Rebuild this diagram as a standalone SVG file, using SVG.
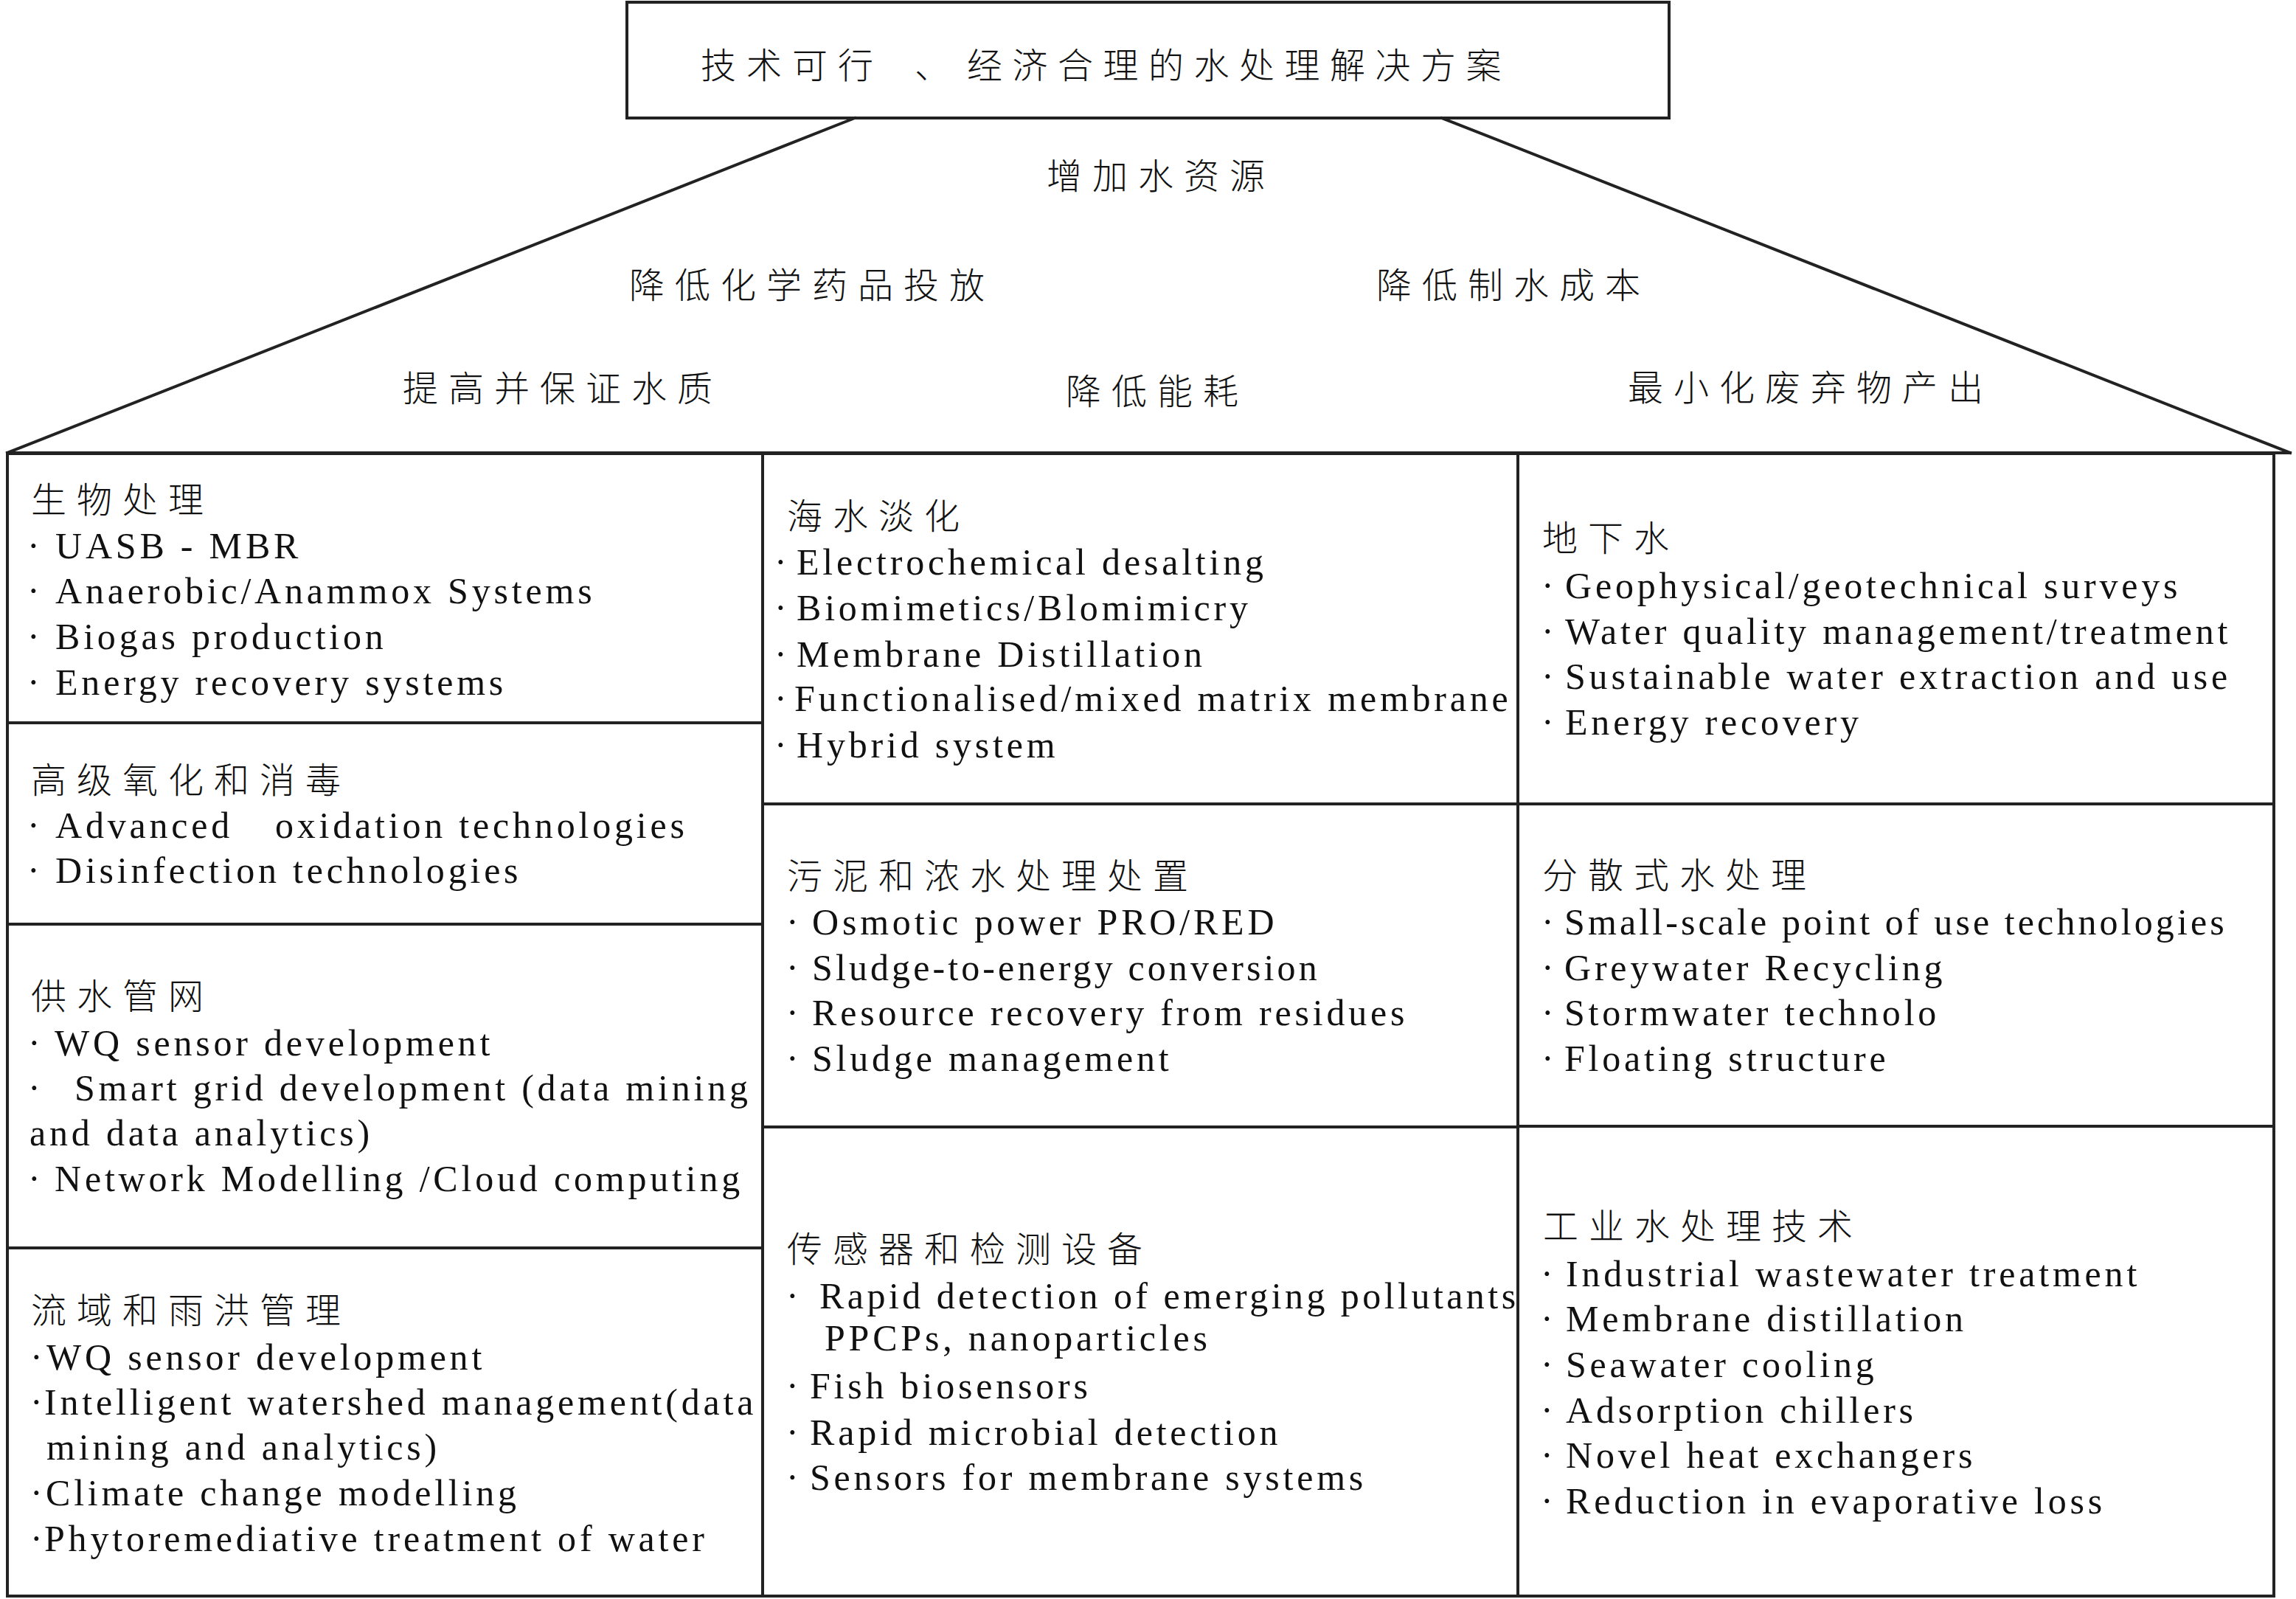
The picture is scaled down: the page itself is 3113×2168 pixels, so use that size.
<svg xmlns="http://www.w3.org/2000/svg" width="3113" height="2168" viewBox="0 0 3113 2168">
<style>
.bg{fill:#ffffff}
.box{fill:none;stroke:#222;stroke-width:4}
.ln{fill:none;stroke:#222;stroke-width:4;stroke-linecap:square}
.cn{font-family:"Noto Sans CJK SC","Noto Sans CJK JP",sans-serif;font-size:48px;letter-spacing:14px;fill:#111;font-weight:300}
.en{font-family:"Liberation Serif","Times New Roman",serif;font-size:50px;letter-spacing:4.8px;fill:#111}
</style>
<rect class="bg" x="0" y="0" width="3113" height="2168"/>

<g id="connectors">
  <line class="ln" x1="1159" y1="160" x2="10" y2="614"/>
  <line class="ln" x1="1955" y1="160" x2="3105" y2="614"/>
  <line class="ln" x1="10" y1="614" x2="3105" y2="614" stroke-width="5"/>
</g>

<g id="title">
  <rect class="box" x="850" y="3" width="1413" height="157"/>
  <text class="cn" style="letter-spacing:0" y="106" x="950 1012 1074 1136 1240 1311 1372.5 1434 1495.5 1557 1618.5 1680 1741.5 1803 1864.5 1926 1987.5">技术可行、经济合理的水处理解决方案</text>
</g>

<g id="goals">
  <text id="goal-water" class="cn" x="1419" y="256">增加水资源</text>
  <text id="goal-chem" class="cn" x="853" y="404">降低化学药品投放</text>
  <text id="goal-cost" class="cn" x="1866" y="404">降低制水成本</text>
  <text id="goal-quality" class="cn" x="546" y="544">提高并保证水质</text>
  <text id="goal-energy" class="cn" x="1445" y="548">降低能耗</text>
  <text id="goal-waste" class="cn" x="2207" y="543">最小化废弃物产出</text>
</g>

<g id="bio">
  <rect class="box" x="10" y="615" width="1024" height="365"/>
  <text class="cn" x="42" y="695">生物处理</text>
  <text class="en" x="37" y="757">·<tspan x="75">UASB - MBR</tspan></text>
  <text class="en" x="37" y="818">·<tspan x="75">Anaerobic/Anammox Systems</tspan></text>
  <text class="en" x="37" y="880">·<tspan x="75">Biogas production</tspan></text>
  <text class="en" x="37" y="942">·<tspan x="75">Energy recovery systems</tspan></text>
</g>

<g id="aop">
  <rect class="box" x="10" y="980" width="1024" height="273"/>
  <text class="cn" x="42" y="1075">高级氧化和消毒</text>
  <text class="en" x="37" y="1136">·<tspan x="75">Advanced</tspan><tspan x="373">oxidation technologies</tspan></text>
  <text class="en" x="37" y="1197">·<tspan x="75">Disinfection technologies</tspan></text>
</g>

<g id="supply">
  <rect class="box" x="10" y="1253" width="1024" height="439"/>
  <text class="cn" x="42" y="1368">供水管网</text>
  <text class="en" x="38" y="1431">·<tspan x="74">WQ sensor development</tspan></text>
  <text class="en" x="38" y="1492">·<tspan x="101">Smart grid development (data mining</tspan></text>
  <text class="en" x="40" y="1553">and data analytics)</text>
  <text class="en" x="38" y="1615">·<tspan x="74">Network Modelling /Cloud computing</tspan></text>
</g>

<g id="watershed">
  <rect class="box" x="10" y="1692" width="1024" height="472"/>
  <text class="cn" x="42" y="1794">流域和雨洪管理</text>
  <text class="en" x="41" y="1857">·<tspan x="63">WQ sensor development</tspan></text>
  <text class="en" x="41" y="1918">·<tspan x="60">Intelligent watershed management(data</tspan></text>
  <text class="en" x="63" y="1979">mining and analytics)</text>
  <text class="en" x="41" y="2041">·<tspan x="62">Climate change modelling</tspan></text>
  <text class="en" x="41" y="2103">·<tspan x="60">Phytoremediative treatment of water</tspan></text>
</g>

<g id="desal">
  <rect class="box" x="1034" y="615" width="1024" height="475"/>
  <text class="cn" x="1067" y="717">海水淡化</text>
  <text class="en" x="1050" y="779">·<tspan x="1080">Electrochemical desalting</tspan></text>
  <text class="en" x="1050" y="841">·<tspan x="1080">Biomimetics/Blomimicry</tspan></text>
  <text class="en" x="1050" y="904">·<tspan x="1080">Membrane Distillation</tspan></text>
  <text class="en" x="1050" y="964">·<tspan x="1077">Functionalised/mixed matrix membrane</tspan></text>
  <text class="en" x="1050" y="1027">·<tspan x="1080">Hybrid system</tspan></text>
</g>

<g id="sludge">
  <rect class="box" x="1034" y="1090" width="1024" height="438"/>
  <text class="cn" x="1067" y="1205">污泥和浓水处理处置</text>
  <text class="en" x="1066" y="1267">·<tspan x="1101">Osmotic power PRO/RED</tspan></text>
  <text class="en" x="1066" y="1329" style="letter-spacing:4.1px">·<tspan x="1101">Sludge-to-energy conversion</tspan></text>
  <text class="en" x="1066" y="1390">·<tspan x="1101">Resource recovery from residues</tspan></text>
  <text class="en" x="1066" y="1452">·<tspan x="1101">Sludge management</tspan></text>
</g>

<g id="sensors">
  <rect class="box" x="1034" y="1528" width="1024" height="636"/>
  <text class="cn" x="1067" y="1711">传感器和检测设备</text>
  <text class="en" x="1066" y="1774" style="letter-spacing:4.45px">·<tspan x="1111">Rapid detection of emerging pollutants</tspan></text>
  <text class="en" x="1118" y="1831">PPCPs, nanoparticles</text>
  <text class="en" x="1066" y="1896">·<tspan x="1098">Fish biosensors</tspan></text>
  <text class="en" x="1066" y="1959">·<tspan x="1098">Rapid microbial detection</tspan></text>
  <text class="en" x="1066" y="2020">·<tspan x="1098">Sensors for membrane systems</tspan></text>
</g>

<g id="groundwater">
  <rect class="box" x="2058" y="615" width="1025" height="475"/>
  <text class="cn" x="2091" y="747">地下水</text>
  <text class="en" x="2090" y="811">·<tspan x="2122">Geophysical/geotechnical surveys</tspan></text>
  <text class="en" x="2090" y="873">·<tspan x="2122">Water quality management/treatment</tspan></text>
  <text class="en" x="2090" y="934">·<tspan x="2122">Sustainable water extraction and use</tspan></text>
  <text class="en" x="2090" y="996">·<tspan x="2122">Energy recovery</tspan></text>
</g>

<g id="decentral">
  <rect class="box" x="2058" y="1090" width="1025" height="437"/>
  <text class="cn" x="2091" y="1204">分散式水处理</text>
  <text class="en" x="2090" y="1267" style="letter-spacing:4.1px">·<tspan x="2121">Small-scale point of use technologies</tspan></text>
  <text class="en" x="2090" y="1329">·<tspan x="2121">Greywater Recycling</tspan></text>
  <text class="en" x="2090" y="1390">·<tspan x="2121">Stormwater technolo</tspan></text>
  <text class="en" x="2090" y="1452">·<tspan x="2121">Floating structure</tspan></text>
</g>

<g id="industrial">
  <rect class="box" x="2058" y="1527" width="1025" height="637"/>
  <text class="cn" x="2092" y="1680">工业水处理技术</text>
  <text class="en" x="2089" y="1744">·<tspan x="2123">Industrial wastewater treatment</tspan></text>
  <text class="en" x="2089" y="1805">·<tspan x="2123">Membrane distillation</tspan></text>
  <text class="en" x="2089" y="1867">·<tspan x="2123">Seawater cooling</tspan></text>
  <text class="en" x="2089" y="1929">·<tspan x="2123">Adsorption chillers</tspan></text>
  <text class="en" x="2089" y="1990">·<tspan x="2123">Novel heat exchangers</tspan></text>
  <text class="en" x="2089" y="2052">·<tspan x="2123">Reduction in evaporative loss</tspan></text>
</g>
</svg>
